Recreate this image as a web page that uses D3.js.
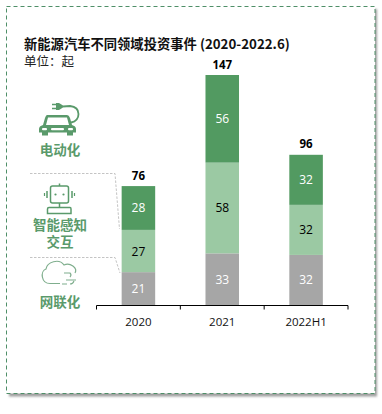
<!DOCTYPE html>
<html>
<head>
<meta charset="utf-8">
<script src="https://cdn.jsdelivr.net/npm/d3@7"></script>
<style>
  html, body { margin: 0; padding: 0; background: #fff; }
  text { font-family: "Noto Sans CJK SC", "Noto Sans", sans-serif; }
  .num { font-family: "Open Sans", "Noto Sans", sans-serif; }
</style>
</head>
<body>
<div id="my_dataviz"></div>
<script>
// Chart data
const years = ["2020", "2021", "2022H1"];
const network = [21, 33, 32];
const sensing = [27, 58, 32];
const electric = [28, 56, 32];
const totals = [76, 147, 96];

const seriesKeys = ["network", "sensing", "electric"];
const seriesColors = {network: "#a6a6a6", sensing: "#9bc9a3", electric: "#529a61"};
const labelColors = {network: "#fff", sensing: "#000", electric: "#fff"};

const rows = years.map((y, i) => ({year: y, network: network[i], sensing: sensing[i], electric: electric[i], total: totals[i]}));

const svg = d3.select("#my_dataviz")
  .append("svg")
    .attr("width", 382)
    .attr("height", 414)
    .style("display", "block");

// Soft shadow on the frame, then the dashed frame
const defs = svg.append("defs");
defs.append("filter").attr("id", "blur").append("feGaussianBlur").attr("stdDeviation", 1.3);
svg.append("rect")
    .attr("x", 9).attr("y", 9).attr("width", 368).attr("height", 387.5)
    .attr("fill", "#9e9e9e").attr("filter", "url(#blur)");
svg.append("rect")
    .attr("x", 6.5).attr("y", 6.5).attr("width", 368.5).attr("height", 387)
    .attr("fill", "#fff")
    .attr("stroke", "#4f8f68")
    .attr("stroke-width", 1)
    .attr("stroke-dasharray", "4,3");

// Title
svg.append("text").attr("x", 24).attr("y", 48.5)
    .style("font-size", "13.3px").style("font-weight", "bold").attr("fill", "#111")
    .text("新能源汽车不同领域投资事件 (2020-2022.6)");
svg.append("text").attr("x", 24).attr("y", 65.5)
    .style("font-size", "12.5px").attr("fill", "#222")
    .text("单位：起");

// Scales
const x = d3.scaleBand().domain(years).range([96.5, 348]).paddingInner(0.6).paddingOuter(0.3);
const xAxisScale = d3.scaleBand().domain(years).range([96.5, 348]);
const y = d3.scaleLinear().domain([0, 147]).range([305, 75]);

const stacked = d3.stack().keys(seriesKeys)(rows);

// Bars
const layers = svg.append("g").selectAll("g")
  .data(stacked)
  .join("g")
    .attr("fill", d => seriesColors[d.key]);

layers.selectAll("rect")
  .data(d => d)
  .join("rect")
    .attr("x", d => x(d.data.year))
    .attr("width", x.bandwidth())
    .attr("y", d => y(d[1]))
    .attr("height", d => y(d[0]) - y(d[1]));

// Segment labels
stacked.forEach(layer => {
  svg.append("g").selectAll("text")
    .data(layer)
    .join("text")
      .attr("class", "num")
      .attr("x", d => x(d.data.year) + x.bandwidth() / 2)
      .attr("y", d => (y(d[0]) + y(d[1])) / 2 + 4.5)
      .attr("text-anchor", "middle")
      .attr("fill", labelColors[layer.key])
      .style("font-size", "12px")
      .text(d => d[1] - d[0]);
});

// Totals
svg.append("g").selectAll("text")
  .data(rows)
  .join("text")
    .attr("class", "num")
    .attr("x", d => x(d.year) + x.bandwidth() / 2)
    .attr("y", d => y(d.total) - 6.5)
    .attr("text-anchor", "middle")
    .attr("fill", "#000")
    .style("font-size", "11.5px")
    .style("font-weight", "bold")
    .text(d => d.total);

// X axis: ticks hang down between the categories
const axis = svg.append("g").attr("transform", "translate(0,305.5)");
axis.append("line").attr("x1", 96.5).attr("x2", 348).attr("stroke", "#000");
axis.selectAll(".tick-mark")
  .data(years.map(d => xAxisScale(d)).concat([348]))
  .join("line")
    .attr("class", "tick-mark")
    .attr("x1", d => d).attr("x2", d => d)
    .attr("y1", 0).attr("y2", 4)
    .attr("stroke", "#000");
axis.selectAll(".tick-label")
  .data(years)
  .join("text")
    .attr("class", "num tick-label")
    .attr("x", d => x(d) + x.bandwidth() / 2)
    .attr("y", 20)
    .attr("text-anchor", "middle")
    .attr("fill", "#111")
    .style("font-size", "11.5px")
    .text(d => d);

// Dashed leader lines from the left labels to the bar
const leader = d3.line();
svg.append("path")
    .attr("d", leader([[30, 173.5], [115, 173.5], [119.5, 229]]))
    .attr("fill", "none").attr("stroke", "#c4c4c4").attr("stroke-dasharray", "2.5,1.5");
svg.append("path")
    .attr("d", leader([[30, 257.5], [115, 257.5], [120, 273]]))
    .attr("fill", "none").attr("stroke", "#c4c4c4").attr("stroke-dasharray", "2.5,1.5");

// Left category captions
const green = "#5a9a6b";
const captions = [
  {lines: ["电动化"], y: 155},
  {lines: ["智能感知", "交互"], y: 230},
  {lines: ["网联化"], y: 307}
];
svg.append("g").selectAll("text")
  .data(captions)
  .join("text")
    .attr("y", d => d.y)
    .attr("text-anchor", "middle")
    .attr("fill", green)
    .style("font-size", "13.5px")
    .style("font-weight", "bold")
  .selectAll("tspan")
  .data(d => d.lines)
  .join("tspan")
    .attr("x", 60)
    .attr("dy", (d, i) => i ? 17 : 0)
    .text(d => d);

// Car with charging plug
const car = svg.append("g").attr("fill", green);
car.append("path")
    .attr("d", "M47 115 L67 115 Q69 115 70 118 L72 125 Q76 126 76 129 L76 132.5 L73 132.5 L73 135.5 L67 135.5 L67 132.5 L48 132.5 L48 135.5 L42 135.5 L42 132.5 L39 132.5 L39 129 Q39 126 43 125 L45 118 Q46 115 47 115 Z");
car.append("path").attr("d", "M48 117.5 L67 117.5 L69 125 L46 125 Z").attr("fill", "#fff");
car.append("rect").attr("x", 42).attr("y", 128).attr("width", 5).attr("height", 2.2).attr("rx", 1).attr("fill", "#fff");
car.append("rect").attr("x", 51).attr("y", 128).attr("width", 13).attr("height", 2.2).attr("rx", 1).attr("fill", "#fff");
car.append("rect").attr("x", 68).attr("y", 128).attr("width", 5).attr("height", 2.2).attr("rx", 1).attr("fill", "#fff");
// plug body with two prongs, then the cable curling round to the car
car.append("path").attr("d", "M56 103 L59 103 L63 105.5 L63 107.5 L59 110 L56 110 Z");
car.append("path").attr("d", "M52 104.5 L56 104.5 M52 108.5 L56 108.5").attr("stroke", green).attr("stroke-width", 1.4);
car.append("path").attr("d", "M63 106.5 L70 106 Q78.5 107 78.5 114 Q78.5 121 71 122.5")
    .attr("fill", "none").attr("stroke", green).attr("stroke-width", 1.8);

// Robot head
const robot = svg.append("g").attr("fill", "none").attr("stroke", green).attr("stroke-width", 1.5);
robot.append("rect").attr("x", 50.5).attr("y", 186).attr("width", 18).attr("height", 17).attr("rx", 2);
robot.append("path").attr("d", "M59.5 183.5 L59.5 186 M59.5 203 L59.5 207");
robot.append("path").attr("d", "M49 207.5 L70 207.5 Q71 207.5 71 209 L71 213.5 L47.5 213.5 L47.5 209 Q47.5 207.5 49 207.5 Z");
robot.append("path").attr("d", "M47 191 L47 198 M72 191 L72 198");
robot.append("path").attr("d", "M44.5 193 L44.5 196 M74.5 193 L74.5 196").attr("stroke-width", 1.2);
robot.append("circle").attr("cx", 55.5).attr("cy", 194.5).attr("r", 1.1).attr("fill", green).attr("stroke", "none");
robot.append("circle").attr("cx", 63.5).attr("cy", 194.5).attr("r", 1.1).attr("fill", green).attr("stroke", "none");

// Cloud with wind lines
svg.append("path")
    .attr("d", "M60 283.5 L50 283.5 C41 283.5 40 271 46 269 C47 262 59 258 64 265 C70 262 78 268 75 273")
    .attr("fill", "none").attr("stroke", "#7fae8d").attr("stroke-width", 1.2);
svg.append("path")
    .attr("d", "M64 273 L70 273 Q72 275 70 277 M66 280 L76 280 M70 284 Q73 284 74 281 M62 284 L67 284")
    .attr("fill", "none").attr("stroke", "#7fae8d").attr("stroke-width", 1.1);
</script>
</body>
</html>
